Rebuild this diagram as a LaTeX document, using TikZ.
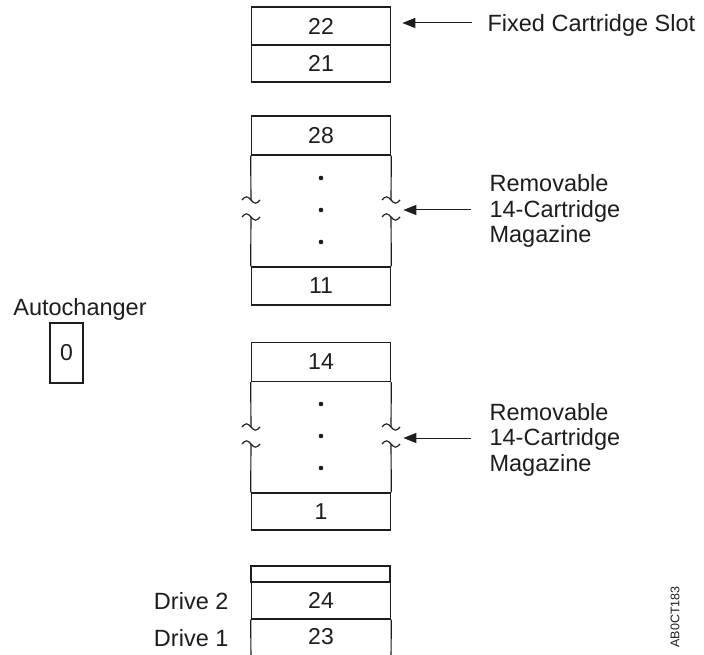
\documentclass[tikz,border=0pt]{standalone}
\usepackage{fontspec}
\setmainfont{Liberation Sans}
\usetikzlibrary{arrows.meta}
\definecolor{ink}{RGB}{30,28,28}
\begin{document}
\begin{tikzpicture}[x=1pt,y=-1pt, line width=1.15pt, draw=ink, color=ink,
  cell/.style={draw, inner sep=0pt, minimum width=139.5pt, font=\fontsize{23}{26}\selectfont},
  lbl/.style={inner sep=0pt, font=\fontsize{23.5}{26}\selectfont},
  arr/.style={-{Triangle[length=13pt,width=10pt]}, line width=1pt},
  brk/.pic={\draw[line width=1.1pt] (-9,0) sin (-4.5,-3.2) cos (0,0) sin (4.5,3.2) cos (9,0);}]
\useasboundingbox (0,0) rectangle (704,655);

% fixed slot
\node[cell, minimum height=38pt] (c22) at (321,26) {22};
\node[cell, minimum height=37pt] (c21) at (321,63.5) {21};
\node[lbl, anchor=base west] (fixl) at (487,32) {Fixed Cartridge Slot};
\coordinate (ta) at (472,23);
\draw[arr, shorten >=11pt] (ta) -- (ta -| c22.east);

% magazine 1
\node[cell, minimum height=39pt] (c28) at (321,135.5) {28};
\node[cell, minimum height=38pt] (c11) at (321,286) {11};
\draw (c28.south west) -- (251,200);
\draw (251,217) -- (c11.north west);
\draw (c28.south east) -- (391,200);
\draw (391,217) -- (c11.north east);
\pic at (251,200) {brk}; \pic at (251,217) {brk};
\pic at (391,200) {brk}; \pic at (391,217) {brk};
\fill (321,178) circle (2.3pt) (321,210) circle (2.3pt) (321,242) circle (2.3pt);
\node[lbl, anchor=base west] (m1a) at (489,192) {Removable};
\node[lbl, anchor=base west] (m1b) at (489,217.5) {14-Cartridge};
\node[lbl, anchor=base west] (m1c) at (489,243) {Magazine};
\coordinate (tb) at (471,210);
\draw[arr, shorten >=12pt] (tb) -- (tb -| c28.east);

% autochanger
\node[lbl, anchor=base] (autol) at (80,315) {Autochanger};
\node[cell, minimum width=33pt, minimum height=60pt] (c0) at (66.5,353) {0};

% magazine 2
\node[cell, minimum height=39pt] (c14) at (321,362) {14};
\node[cell, minimum height=37pt] (c1) at (321,511.5) {1};
\draw (c14.south west) -- (251,427);
\draw (251,444) -- (c1.north west);
\draw (c14.south east) -- (391,427);
\draw (391,444) -- (c1.north east);
\pic at (251,427) {brk}; \pic at (251,444) {brk};
\pic at (391,427) {brk}; \pic at (391,444) {brk};
\fill (321,404) circle (2.3pt) (321,436) circle (2.3pt) (321,468) circle (2.3pt);
\node[lbl, anchor=base west] (m2a) at (489,420) {Removable};
\node[lbl, anchor=base west] (m2b) at (489,445.5) {14-Cartridge};
\node[lbl, anchor=base west] (m2c) at (489,471) {Magazine};
\coordinate (tc) at (471,438);
\draw[arr, shorten >=12pt] (tc) -- (tc -| c14.east);

% drives
\node[cell, minimum width=139pt, minimum height=16pt] (cblank) at (320.5,574) {};
\node[cell, minimum height=37pt] (c24) at (321,600.5) {24};
\node[inner sep=0pt, font=\fontsize{23}{26}\selectfont] (c23) at (321,637) {23};
\draw (251,660) -- (c24.south west);
\draw (391,660) -- (c24.south east);
\node[lbl, anchor=east] (d2) at (229,601) {Drive 2};
\node[lbl, anchor=east] (d1) at (229,638) {Drive 1};

\node[inner sep=0pt, rotate=90, font=\fontsize{12.5}{14}\selectfont] (fig) at (675,617) {AB0CT183};
\end{tikzpicture}
\end{document}
